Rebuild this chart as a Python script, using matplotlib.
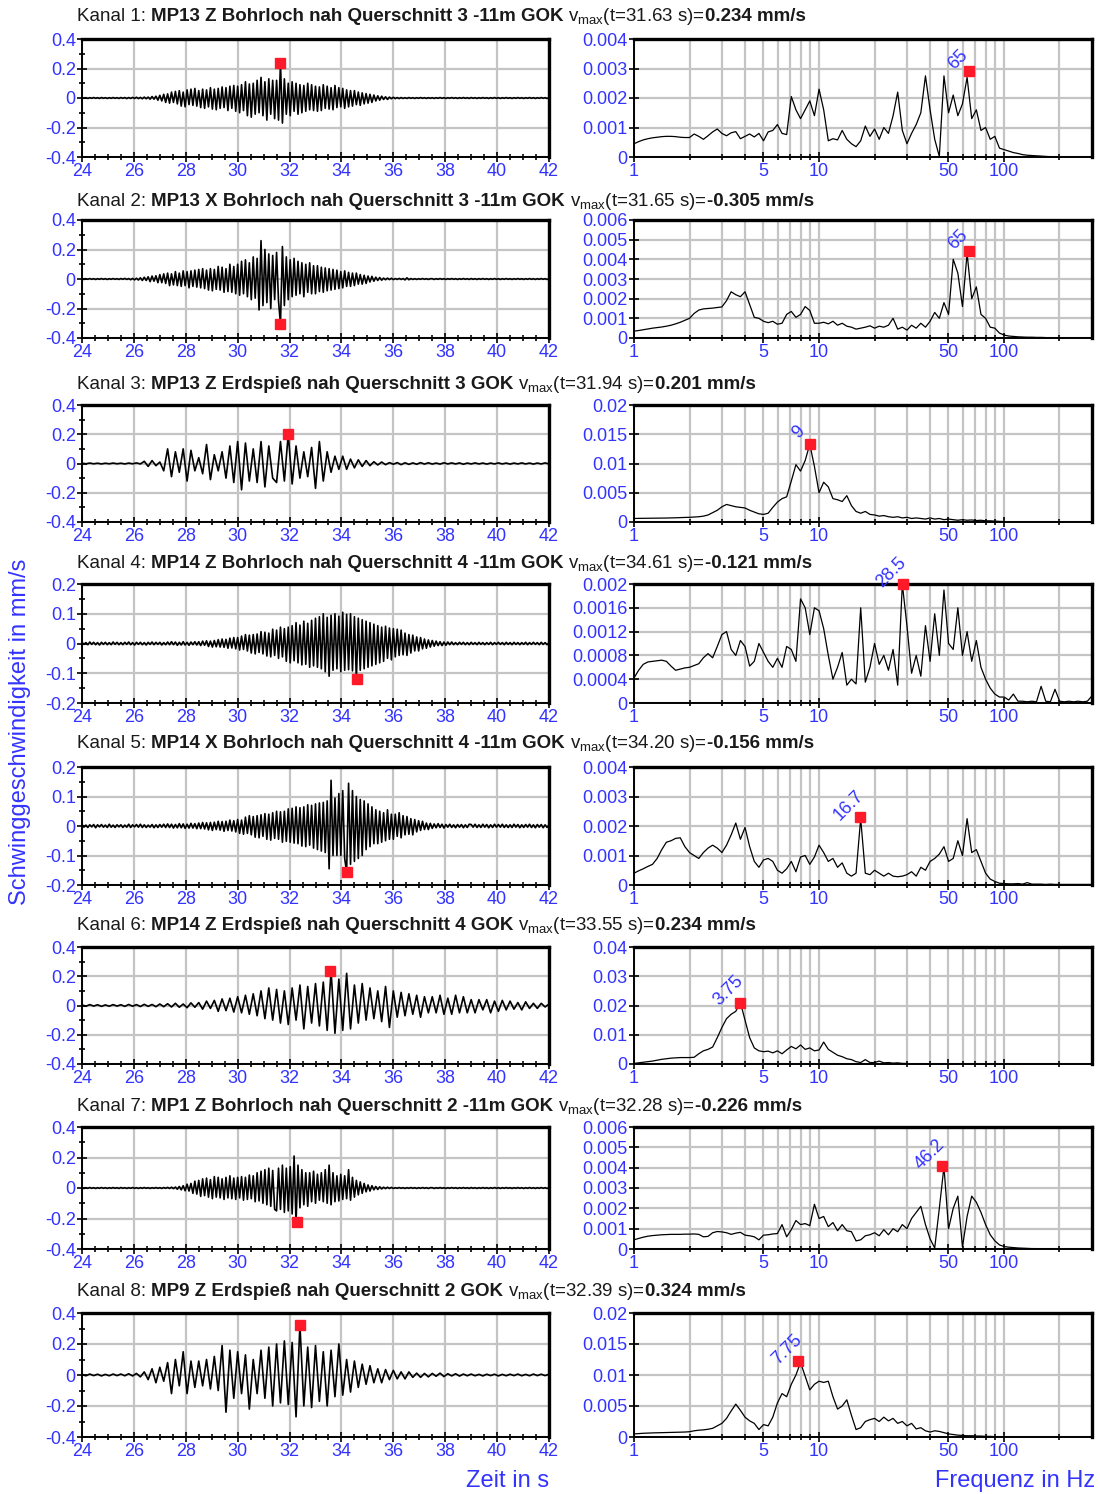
import numpy as np
import matplotlib
matplotlib.use('Agg')
import matplotlib.pyplot as plt
from matplotlib.ticker import MultipleLocator, FixedLocator, FixedFormatter, NullFormatter, FuncFormatter

plt.rcParams['font.family'] = ['Liberation Sans', 'DejaVu Sans']
plt.rcParams['mathtext.fontset'] = 'custom'
plt.rcParams['mathtext.rm'] = 'Liberation Sans'
plt.rcParams['axes.unicode_minus'] = False

###############################################################
# Data
# channel titles
kanal = ['Kanal 1:', 'Kanal 2:', 'Kanal 3:', 'Kanal 4:',
         'Kanal 5:', 'Kanal 6:', 'Kanal 7:', 'Kanal 8:']
sensor = ['MP13 Z Bohrloch nah Querschnitt 3 -11m GOK',
          'MP13 X Bohrloch nah Querschnitt 3 -11m GOK',
          'MP13 Z Erdspieß nah Querschnitt 3 GOK',
          'MP14 Z Bohrloch nah Querschnitt 4 -11m GOK',
          'MP14 X Bohrloch nah Querschnitt 4 -11m GOK',
          'MP14 Z Erdspieß nah Querschnitt 4 GOK',
          'MP1 Z Bohrloch nah Querschnitt 2 -11m GOK',
          'MP9 Z Erdspieß nah Querschnitt 2 GOK']
t_peak = [31.63, 31.65, 31.94, 34.61, 34.20, 33.55, 32.28, 32.39]
v_peak = [0.234, -0.305, 0.201, -0.121, -0.156, 0.234, -0.226, 0.324]

# velocity traces [mm/s], sampled evenly from 24 s to 42 s
# (one line = 1.5 s for the dense traces)
vel1 = [0.003, -0.002, 0.002, -0.003, 0.002, -0.002, 0.003, -0.002, 0.002, -0.003, 0.003, -0.002, 0.002, -0.003, 0.002, -0.002, 0.003, -0.002, 0.002, -0.003,
        0.003, -0.002, 0.003, -0.004, 0.003, -0.003, 0.004, -0.003, 0.005, -0.004, 0.004, -0.005, 0.006, -0.005, 0.006, -0.008, 0.01, -0.008, 0.012, -0.015,
        0.018, -0.02, 0.025, -0.03, 0.028, -0.035, 0.04, -0.03, 0.045, -0.04, 0.05, -0.055, 0.04, -0.06, 0.055, -0.045, 0.06, -0.05, 0.065, -0.055,
        0.05, -0.065, 0.06, -0.07, 0.055, -0.06, 0.07, -0.075, 0.06, -0.08, 0.065, -0.07, 0.075, -0.065, 0.07, -0.085, 0.08, -0.07, 0.085, -0.09,
        0.08, -0.1, 0.09, -0.085, 0.11, -0.12, 0.095, -0.13, 0.1, -0.11, 0.12, -0.1, 0.14, -0.12, 0.11, -0.15, 0.13, -0.11, 0.12, -0.14,
        0.12, -0.15, 0.234, -0.17, 0.13, -0.11, 0.1, -0.12, 0.11, -0.09, 0.1, -0.11, 0.09, -0.1, 0.085, -0.09, 0.1, -0.08, 0.09, -0.085,
        0.08, -0.09, 0.075, -0.085, 0.09, -0.07, 0.08, -0.075, 0.07, -0.08, 0.085, -0.065, 0.07, -0.06, 0.065, -0.07, 0.055, -0.06, 0.05, -0.055,
        0.05, -0.045, 0.04, -0.05, 0.035, -0.04, 0.03, -0.035, 0.025, -0.03, 0.02, -0.02, 0.015, -0.015, 0.012, -0.01, 0.008, -0.01, 0.006, -0.005,
        0.005, -0.004, 0.003, -0.004, 0.003, -0.003, 0.002, -0.003, 0.003, -0.002, 0.002, -0.003, 0.002, -0.002, 0.003, -0.002, 0.002, -0.003, 0.002, -0.002,
        0.002, -0.003, 0.002, -0.002, 0.003, -0.002, 0.002, -0.003, 0.002, -0.002, 0.003, -0.002, 0.002, -0.003, 0.002, -0.002, 0.003, -0.002, 0.002, -0.003,
        0.003, -0.002, 0.002, -0.003, 0.002, -0.002, 0.003, -0.002, 0.002, -0.003, 0.002, -0.002, 0.003, -0.002, 0.002, -0.003, 0.002, -0.002, 0.003, -0.002,
        0.002, -0.003, 0.002, -0.002, 0.003, -0.002, 0.002, -0.003, 0.002, -0.002, 0.003, -0.002, 0.002, -0.003, 0.002, -0.002, 0.003, -0.002, 0.002, -0.003,
        0.002]
vel2 = [0.002, -0.003, 0.002, -0.002, 0.003, -0.002, 0.002, -0.003, 0.002, -0.002, 0.003, -0.002, 0.002, -0.003, 0.002, -0.002, 0.003, -0.002, 0.002, -0.003,
        0.003, -0.002, 0.004, -0.003, 0.003, -0.005, 0.004, -0.006, 0.005, -0.007, 0.008, -0.01, 0.012, -0.01, 0.015, -0.018, 0.02, -0.015, 0.022, -0.025,
        0.03, -0.025, 0.035, -0.03, 0.04, -0.045, 0.035, -0.04, 0.05, -0.045, 0.04, -0.05, 0.055, -0.045, 0.05, -0.06, 0.055, -0.05, 0.06, -0.055,
        0.065, -0.06, 0.07, -0.065, 0.06, -0.075, 0.07, -0.08, 0.065, -0.07, 0.085, -0.075, 0.08, -0.09, 0.07, -0.085, 0.1, -0.09, 0.085, -0.1,
        0.1, -0.11, 0.12, -0.1, 0.13, -0.12, 0.11, -0.14, 0.15, -0.13, 0.14, -0.21, 0.26, -0.18, 0.2, -0.16, 0.17, -0.2, 0.16, -0.14,
        0.18, -0.15, -0.305, 0.22, -0.18, 0.15, -0.14, 0.13, -0.12, 0.14, -0.11, 0.12, -0.1, 0.11, -0.12, 0.1, -0.09, 0.11, -0.1, 0.09,
        -0.1, 0.09, -0.085, 0.08, -0.09, 0.075, -0.08, 0.07, -0.075, 0.065, -0.07, 0.06, -0.065, 0.05, -0.06, 0.055, -0.05, 0.045, -0.05, 0.04,
        -0.045, 0.04, -0.035, 0.03, -0.035, 0.025, -0.03, 0.02, -0.02, 0.018, -0.015, 0.012, -0.01, 0.01, -0.008, 0.006, -0.005, 0.006, -0.004, 0.005,
        -0.004, 0.003, -0.003, 0.004, -0.003, 0.003, -0.006, 0.008, -0.005, 0.003, -0.003, 0.002, -0.003, 0.002, -0.002, 0.003, -0.002, 0.002, -0.003, 0.002,
        0.002, -0.003, 0.002, -0.002, 0.003, -0.002, 0.002, -0.003, 0.002, -0.002, 0.003, -0.002, 0.002, -0.003, 0.002, -0.002, 0.003, -0.002, 0.002, -0.003,
        0.003, -0.002, 0.002, -0.003, 0.002, -0.002, 0.003, -0.002, 0.002, -0.003, 0.002, -0.002, 0.003, -0.002, 0.002, -0.003, 0.002, -0.002, 0.003, -0.002,
        0.002, -0.003, 0.002, -0.002, 0.003, -0.002, 0.002, -0.003, 0.002, -0.002, 0.003, -0.002, 0.002, -0.003, 0.002, -0.002, 0.003, -0.002, 0.002, -0.003,
        0.002]
vel3 = [0.002, -0.002, 0.003, -0.002, 0.002, -0.003, 0.002, -0.002, 0.003, -0.002,
        0.002, -0.003, 0.003, -0.002, 0.004, -0.003, 0.015, -0.02, 0.02, -0.015,
        0.01, -0.05, 0.1, -0.09, 0.08, -0.06, 0.1, -0.12, 0.09, -0.05,
        0.04, -0.07, 0.13, -0.11, 0.06, -0.05, 0.08, -0.1, 0.12, -0.13,
        0.15, -0.18, 0.14, -0.12, 0.1, -0.13, 0.15, -0.16, 0.12, -0.1,
        -0.13, 0.15, -0.12, 0.201, -0.14, 0.12, -0.1, 0.08, -0.09, 0.11,
        -0.17, 0.15, -0.12, 0.08, -0.06, 0.05, -0.04, 0.05, -0.04, 0.03,
        -0.03, 0.025, -0.02, 0.02, -0.015, 0.012, -0.01, 0.01, -0.008, 0.006,
        -0.005, 0.006, -0.008, 0.005, -0.006, 0.004, -0.005, 0.006, -0.004, 0.005,
        -0.004, 0.003, -0.004, 0.005, -0.003, 0.004, -0.003, 0.004, -0.005, 0.003,
        -0.003, 0.004, -0.003, 0.003, -0.004, 0.003, -0.003, 0.004, -0.003, 0.003,
        -0.004, 0.003, -0.003, 0.004, -0.003, 0.003, -0.004, 0.003, -0.003, 0.004, -0.003]
vel4 = [0.004, -0.003, 0.003, -0.004, 0.005, -0.003, 0.004, -0.004, 0.003, -0.005, 0.004, -0.003, 0.004, -0.004, 0.003, -0.004, 0.005, -0.003, 0.004, -0.004,
        0.003, -0.004, 0.004, -0.003, 0.005, -0.004, 0.003, -0.005, 0.004, -0.003, 0.004, -0.004, 0.003, -0.005, 0.004, -0.003, 0.005, -0.004, 0.004, -0.003,
        0.004, -0.005, 0.003, -0.004, 0.005, -0.004, 0.006, -0.004, 0.005, -0.006, 0.004, -0.005, 0.006, -0.005, 0.004, -0.006, 0.005, -0.004, 0.006, -0.005,
        0.006, -0.007, 0.008, -0.006, 0.009, -0.01, 0.008, -0.012, 0.01, -0.011, 0.013, -0.012, 0.015, -0.013, 0.014, -0.016, 0.018, -0.015, 0.02, -0.018,
        0.02, -0.022, 0.025, -0.02, 0.03, -0.025, 0.028, -0.032, 0.03, -0.035, 0.032, -0.03, 0.04, -0.035, 0.038, -0.042, 0.035, -0.045, 0.048, -0.04,
        0.045, -0.05, 0.055, -0.045, 0.05, -0.06, 0.055, -0.065, 0.06, -0.058, 0.07, -0.065, 0.062, -0.072, 0.075, -0.07, 0.068, -0.08, 0.078, -0.075,
        0.085, -0.08, 0.09, -0.085, 0.1, -0.095, 0.088, -0.11, 0.095, -0.09, 0.1, -0.085, 0.092, -0.095, 0.105, -0.09, 0.098, -0.088, 0.1, -0.092,
        0.09, -0.121, 0.085, -0.09, 0.08, -0.085, 0.075, -0.08, 0.07, -0.075, 0.065, -0.07, 0.06, -0.065, 0.055, -0.06, 0.058, -0.05, 0.052, -0.055,
        0.05, -0.045, 0.048, -0.04, 0.045, -0.038, 0.035, -0.04, 0.03, -0.032, 0.028, -0.025, 0.022, -0.025, 0.02, -0.018, 0.015, -0.016, 0.012, -0.012,
        0.01, -0.009, 0.008, -0.007, 0.006, -0.007, 0.005, -0.006, 0.005, -0.004, 0.005, -0.004, 0.003, -0.004, 0.004, -0.003, 0.004, -0.004, 0.003, -0.004,
        0.004, -0.003, 0.003, -0.004, 0.004, -0.003, 0.003, -0.004, 0.003, -0.003, 0.004, -0.004, 0.003, -0.003, 0.004, -0.003, 0.003, -0.004, 0.004, -0.003,
        0.003, -0.004, 0.004, -0.003, 0.003, -0.004, 0.003, -0.003, 0.004, -0.004, 0.003, -0.003, 0.004, -0.003, 0.003, -0.004, 0.004, -0.003, 0.003, -0.004,
        0.003]
vel5 = [0.005, -0.004, 0.003, -0.005, 0.004, -0.003, 0.005, -0.006, 0.004, -0.003, 0.005, -0.004, 0.003, -0.005, 0.006, -0.004, 0.003, -0.005, 0.004, -0.003,
        0.004, -0.005, 0.003, -0.004, 0.006, -0.005, 0.004, -0.003, 0.005, -0.004, 0.006, -0.005, 0.004, -0.005, 0.003, -0.004, 0.005, -0.006, 0.004, -0.005,
        0.005, -0.004, 0.006, -0.005, 0.007, -0.005, 0.006, -0.007, 0.005, -0.006, 0.008, -0.006, 0.007, -0.008, 0.006, -0.007, 0.009, -0.007, 0.008, -0.009,
        0.01, -0.009, 0.012, -0.01, 0.011, -0.013, 0.012, -0.015, 0.013, -0.012, 0.016, -0.014, 0.015, -0.018, 0.016, -0.015, 0.02, -0.017, 0.018, -0.02,
        0.022, -0.025, 0.02, -0.028, 0.03, -0.025, 0.035, -0.03, 0.032, -0.038, 0.035, -0.04, 0.038, -0.035, 0.042, -0.045, 0.04, -0.048, 0.045, -0.042,
        0.05, -0.045, 0.048, -0.055, 0.05, -0.052, 0.058, -0.055, 0.06, -0.058, 0.065, -0.06, 0.062, -0.068, 0.065, -0.07, 0.072, -0.065, 0.07, -0.075,
        0.075, -0.08, 0.078, -0.085, 0.08, -0.09, 0.085, -0.145, 0.155, -0.1, 0.095, -0.1, 0.11, -0.1, 0.12, -0.11, -0.156, 0.145, -0.13, 0.12,
        -0.12, 0.1, -0.11, 0.09, -0.1, 0.085, -0.08, 0.075, -0.07, 0.065, -0.06, 0.055, -0.06, 0.05, -0.055, 0.045, -0.05, 0.055, -0.045, 0.04,
        -0.045, 0.04, -0.035, 0.045, -0.04, 0.035, -0.03, 0.032, -0.028, 0.025, -0.03, 0.022, -0.02, 0.018, -0.015, 0.016, -0.012, 0.01, -0.012, 0.009,
        -0.008, 0.007, -0.006, 0.008, -0.005, 0.006, -0.007, 0.005, -0.004, 0.006, -0.005, 0.004, -0.006, 0.005, -0.004, 0.005, -0.006, 0.004, -0.005, 0.006,
        0.005, -0.004, 0.006, -0.005, 0.004, -0.005, 0.006, -0.004, 0.005, -0.006, 0.004, -0.005, 0.006, -0.004, 0.005, -0.004, 0.006, -0.005, 0.004, -0.005,
        0.004, -0.005, 0.006, -0.004, 0.005, -0.006, 0.004, -0.005, 0.005, -0.004, 0.006, -0.005, 0.004, -0.006, 0.005, -0.004, 0.005, -0.006, 0.004, -0.005,
        0.004]
vel6 = [0.004, -0.005, 0.006, -0.004, 0.005, -0.006, 0.004, -0.005, 0.006, -0.004,
        0.005, -0.006, 0.007, -0.005, 0.006, -0.007, 0.008, -0.006, 0.007, -0.008,
        0.01, -0.008, 0.012, -0.01, 0.015, -0.012, 0.01, -0.015, 0.018, -0.012,
        0.02, -0.025, 0.03, -0.02, 0.035, -0.04, 0.045, -0.035, 0.05, -0.045,
        0.06, -0.05, 0.07, -0.06, 0.08, -0.07, 0.1, -0.09, 0.12, -0.1,
        0.11, -0.12, 0.1, -0.13, 0.12, -0.1, 0.14, -0.16, 0.13, -0.12,
        0.15, -0.14, 0.16, -0.17, 0.234, -0.19, 0.18, -0.17, 0.22, -0.16,
        0.14, -0.12, 0.15, -0.1, 0.12, -0.09, 0.1, -0.11, 0.13, -0.15,
        0.1, -0.08, 0.09, -0.07, 0.08, -0.06, 0.07, -0.08, 0.06, -0.05,
        0.06, -0.05, 0.07, -0.06, 0.05, -0.06, 0.07, -0.05, 0.06, -0.05,
        0.04, -0.05, 0.04, -0.03, 0.04, -0.05, 0.03, -0.04, 0.035, -0.03,
        0.03, -0.025, 0.02, -0.03, 0.025, -0.02, 0.015, -0.02, 0.015, -0.01, 0.01]
vel7 = [0.002, -0.003, 0.002, -0.002, 0.003, -0.002, 0.002, -0.003, 0.002, -0.002, 0.003, -0.002, 0.002, -0.003, 0.002, -0.002, 0.003, -0.002, 0.002, -0.003,
        0.003, -0.002, 0.002, -0.003, 0.002, -0.002, 0.003, -0.002, 0.002, -0.003, 0.002, -0.002, 0.003, -0.002, 0.002, -0.003, 0.002, -0.002, 0.003, -0.002,
        0.002, -0.003, 0.003, -0.002, 0.004, -0.003, 0.005, -0.004, 0.006, -0.008, 0.01, -0.012, 0.015, -0.018, 0.025, -0.02, 0.03, -0.035, 0.045, -0.04,
        0.05, -0.055, 0.06, -0.05, 0.065, -0.06, 0.055, -0.07, 0.075, -0.06, 0.07, -0.065, 0.06, -0.075, 0.07, -0.065, 0.08, -0.07, 0.065, -0.075,
        0.07, -0.065, 0.075, -0.08, 0.07, -0.075, 0.085, -0.07, 0.08, -0.09, 0.1, -0.085, 0.11, -0.1, 0.12, -0.11, 0.13, -0.12, 0.115, -0.14,
        -0.15, 0.13, -0.14, 0.15, -0.16, 0.13, -0.15, 0.14, -0.17, 0.21, -0.226, 0.15, -0.13, 0.12, -0.11, 0.1, -0.12, 0.1, -0.09, 0.11,
        -0.1, 0.09, -0.08, 0.1, -0.09, 0.12, -0.1, 0.15, -0.11, 0.1, -0.09, 0.08, -0.085, 0.09, -0.075, 0.08, -0.07, 0.12, -0.08, 0.07,
        -0.06, 0.05, -0.045, 0.04, -0.035, 0.03, -0.025, 0.02, -0.02, 0.015, -0.012, 0.01, -0.01, 0.008, -0.006, 0.005, -0.004, 0.005, -0.003, 0.004,
        -0.003, 0.002, -0.002, 0.003, -0.002, 0.002, -0.003, 0.002, -0.002, 0.003, -0.002, 0.002, -0.003, 0.002, -0.002, 0.003, -0.002, 0.002, -0.003, 0.002,
        0.002, -0.003, 0.002, -0.002, 0.003, -0.002, 0.002, -0.003, 0.002, -0.002, 0.003, -0.002, 0.002, -0.003, 0.002, -0.002, 0.003, -0.002, 0.002, -0.003,
        0.003, -0.002, 0.002, -0.003, 0.002, -0.002, 0.003, -0.002, 0.002, -0.003, 0.002, -0.002, 0.003, -0.002, 0.002, -0.003, 0.002, -0.002, 0.003, -0.002,
        0.002, -0.003, 0.002, -0.002, 0.003, -0.002, 0.002, -0.003, 0.002, -0.002, 0.003, -0.002, 0.002, -0.003, 0.002, -0.002, 0.003, -0.002, 0.002, -0.003,
        0.002]
vel8 = [0.004, -0.005, 0.006, -0.004, 0.005, -0.006, 0.004, -0.005, 0.006, -0.004,
        0.006, -0.005, 0.008, -0.006, 0.01, -0.012, 0.02, -0.03, 0.04, -0.05,
        0.05, -0.04, 0.08, -0.12, 0.1, -0.07, 0.15, -0.12, 0.09, -0.08,
        0.09, -0.07, 0.1, -0.09, 0.12, -0.1, 0.19, -0.24, 0.16, -0.15,
        0.15, -0.12, 0.13, -0.22, 0.1, -0.12, 0.16, -0.15, 0.18, -0.2,
        0.2, -0.18, 0.22, -0.19, 0.21, -0.27, 0.324, -0.2, 0.18, -0.21,
        0.19, -0.17, 0.15, -0.2, 0.16, -0.14, 0.2, -0.13, 0.1, -0.11,
        0.09, -0.08, 0.07, -0.06, 0.06, -0.05, 0.04, -0.05, 0.035, -0.03,
        0.03, -0.025, 0.02, -0.025, 0.02, -0.015, 0.012, -0.015, 0.01, -0.012,
        0.01, -0.008, 0.012, -0.01, 0.008, -0.006, 0.008, -0.007, 0.006, -0.005,
        0.006, -0.005, 0.004, -0.006, 0.005, -0.004, 0.005, -0.006, 0.004, -0.005,
        0.005, -0.004, 0.006, -0.005, 0.004, -0.005, 0.006, -0.004, 0.005, -0.004, 0.005]

# amplitude spectra, sampled on a log grid 1..300 Hz (list may stop early)
spec_scale = [1e-3, 1e-3, 1e-3, 1e-4, 1e-4, 1e-3, 1e-3, 1e-3]
spec1 = [0.45, 0.52, 0.58, 0.62, 0.65, 0.67, 0.69, 0.70, 0.70, 0.69,
         0.67, 0.66, 0.66, 0.78, 0.70, 0.60, 0.72, 0.85, 0.95, 0.80,
         0.72, 0.82, 0.86, 0.62, 0.70, 0.78, 0.68, 0.80, 0.55, 0.85,
         0.90, 1.10, 0.80, 0.76, 2.05, 1.60, 1.30, 1.60, 1.90, 1.40,
         2.30, 1.60, 0.55, 0.62, 0.58, 0.90, 0.60, 0.45, 0.35, 0.55,
         1.05, 0.70, 0.95, 0.60, 1.00, 0.80, 1.40, 2.20, 0.90, 0.45,
         0.80, 1.10, 1.50, 2.75, 1.60, 0.60, 0.02, 2.75, 1.50, 2.10,
         1.40, 1.80, 2.70, 1.30, 1.60, 0.90, 1.00, 0.60, 0.70, 0.30,
         0.25, 0.20, 0.15, 0.12, 0.08, 0.06, 0.05, 0.04, 0.03, 0.02, 0.01]
spec2 = [0.35, 0.38, 0.42, 0.46, 0.50, 0.53, 0.56, 0.60, 0.65, 0.72,
         0.80, 0.90, 1.00, 1.25, 1.42, 1.48, 1.50, 1.52, 1.55, 1.58,
         1.90, 2.35, 2.20, 2.10, 2.35, 1.70, 1.05, 1.00, 0.85, 0.78,
         0.85, 0.70, 0.75, 1.20, 1.35, 1.05, 1.20, 1.60, 1.40, 0.75,
         0.75, 0.80, 0.72, 0.85, 0.65, 0.75, 0.60, 0.55, 0.45, 0.50,
         0.55, 0.62, 0.50, 0.60, 0.55, 0.65, 1.00, 0.45, 0.55, 0.40,
         0.65, 0.50, 0.75, 0.55, 0.85, 1.30, 1.00, 1.80, 1.20, 4.00,
         3.30, 1.60, 4.30, 2.00, 2.60, 1.20, 1.00, 0.55, 0.50, 0.25,
         0.15, 0.10, 0.08, 0.06, 0.05, 0.04, 0.04, 0.03, 0.03, 0.02, 0.01]
spec3 = [0.60, 0.62, 0.63, 0.64, 0.65, 0.66, 0.67, 0.68, 0.70, 0.72,
         0.75, 0.78, 0.80, 0.85, 0.90, 1.00, 1.20, 1.60, 2.00, 2.60,
         3.00, 2.80, 2.60, 2.50, 2.40, 2.00, 1.70, 1.40, 1.30, 1.50,
         2.50, 3.40, 4.00, 4.30, 7.00, 9.80, 8.70, 10.5, 13.3, 9.50,
         5.00, 6.80, 6.00, 4.00, 3.80, 3.50, 4.50, 2.80, 1.80, 1.50,
         1.80, 1.30, 1.20, 1.00, 1.10, 0.90, 0.80, 0.90, 0.70, 0.80,
         0.60, 0.70, 0.60, 0.50, 0.70, 0.50, 0.60, 0.40, 0.50, 0.40,
         0.30, 0.40, 0.30, 0.35, 0.25, 0.30, 0.20, 0.20, 0.15, 0.10, 0.08]
spec4 = [4.2, 5.5, 6.5, 6.9, 7.0, 7.1, 7.2, 7.0, 6.2, 5.5,
         5.7, 5.9, 6.0, 6.3, 6.6, 7.6, 8.3, 7.6, 9.5, 11.5,
         12.0, 9.0, 8.0, 10.5, 9.5, 6.2, 7.0, 10.0, 8.5, 7.0,
         6.0, 7.5, 6.0, 9.5, 9.0, 7.0, 17.5, 16.0, 11.5, 16.0,
         15.5, 12.5, 8.0, 4.0, 6.0, 8.5, 3.0, 4.0, 3.2, 16.0,
         3.5, 6.0, 10.0, 6.5, 8.0, 5.5, 9.0, 3.0, 20.0, 13.0,
         5.0, 8.0, 4.5, 13.0, 7.0, 15.0, 8.0, 19.0, 10.0, 9.0,
         16.0, 8.0, 12.0, 7.0, 10.5, 6.0, 4.0, 2.5, 1.5, 1.0,
         1.0, 0.5, 1.5, 0.3, 0.3, 0.2, 0.3, 0.2, 2.8, 0.3,
         0.2, 2.3, 0.3, 0.2, 0.3, 0.2, 0.3, 0.2, 0.3, 1.2]
spec5 = [4.0, 4.8, 5.5, 6.3, 7.0, 9.0, 12.0, 14.5, 15.0, 15.8,
         16.0, 13.0, 11.0, 10.0, 9.0, 11.0, 12.5, 13.5, 12.5, 11.0,
         13.5, 17.0, 21.0, 15.5, 19.5, 13.0, 8.0, 6.0, 8.5, 9.0,
         8.0, 5.0, 4.0, 5.5, 8.0, 4.5, 9.5, 10.0, 7.0, 9.5,
         13.5, 11.0, 8.0, 9.0, 6.0, 7.5, 4.0, 3.0, 4.0, 22.5,
         4.0, 3.5, 5.0, 4.0, 3.0, 4.0, 3.0, 2.8, 3.0, 3.5,
         4.5, 3.0, 6.0, 5.0, 8.0, 9.0, 10.5, 13.0, 8.0, 9.0,
         15.0, 10.0, 22.5, 11.0, 12.0, 8.0, 4.0, 2.0, 1.2, 0.6,
         0.5, 0.4, 0.4, 0.5, 0.3, 0.8, 0.3, 0.3, 0.3, 0.2,
         0.3, 0.2, 0.2, 0.2, 0.2, 0.2, 0.2, 0.2, 0.2, 0.2]
spec6 = [0.2, 0.4, 0.6, 0.8, 1.0, 1.3, 1.6, 1.8, 2.0, 2.1,
         2.2, 2.2, 2.2, 2.3, 3.5, 4.5, 5.0, 5.8, 9.0, 12.5,
         15.5, 17.0, 18.0, 21.0, 15.0, 9.0, 5.5, 4.5, 4.2, 4.4,
         3.8, 4.5, 3.5, 4.8, 6.0, 5.2, 6.5, 5.0, 5.5, 4.5,
         4.8, 7.5, 5.0, 4.0, 3.0, 2.5, 1.8, 1.5, 0.8, 0.5,
         1.5, 0.5, 0.5, 1.0, 0.4, 0.5, 0.3, 0.4, 0.2, 0.2]
spec7 = [0.45, 0.52, 0.58, 0.63, 0.66, 0.68, 0.70, 0.71, 0.72, 0.72,
         0.72, 0.73, 0.73, 0.74, 0.72, 0.60, 0.62, 0.80, 0.86, 0.84,
         0.80, 0.72, 0.78, 0.82, 0.68, 0.65, 0.60, 0.45, 0.68, 0.70,
         0.74, 0.76, 1.20, 0.60, 0.95, 1.40, 1.20, 1.25, 1.15, 2.20,
         1.50, 1.60, 1.10, 1.30, 0.90, 1.20, 0.90, 0.85, 0.40, 0.45,
         0.65, 0.70, 0.80, 0.65, 0.95, 0.70, 1.00, 0.85, 1.20, 1.00,
         1.50, 1.80, 2.10, 1.20, 0.50, 0.05, 2.00, 4.05, 1.00, 2.00,
         2.60, 0.10, 1.60, 2.60, 2.30, 1.80, 1.20, 0.70, 0.40, 0.20,
         0.12, 0.09, 0.07, 0.05, 0.04, 0.03, 0.02, 0.02, 0.01, 0.01, 0.01]
spec8 = [0.50, 0.55, 0.60, 0.63, 0.66, 0.68, 0.70, 0.72, 0.74, 0.76,
         0.78, 0.80, 0.85, 1.00, 1.10, 1.15, 1.25, 1.40, 1.80, 2.20,
         3.00, 4.20, 5.30, 4.30, 3.20, 2.60, 2.20, 1.20, 2.00, 1.80,
         3.20, 5.50, 7.00, 6.50, 8.50, 10.0, 12.0, 9.80, 7.60, 8.50,
         9.00, 8.80, 9.00, 6.50, 4.50, 5.00, 6.00, 3.50, 1.20, 1.50,
         2.50, 2.80, 3.00, 2.50, 3.20, 2.60, 3.00, 2.20, 2.50, 1.80,
         2.20, 1.30, 1.50, 1.00, 0.80, 1.00, 0.90, 0.70, 0.50, 0.40,
         0.30, 0.25, 0.20, 0.20, 0.15, 0.15, 0.10, 0.10, 0.05, 0.05, 0.03]
f_peak = [65, 65, 9, 28.5, 16.7, 3.75, 46.2, 7.75]
f_peak_lbl = ['65', '65', '9', '28.5', '16.7', '3.75', '46.2', '7.75']
a_peak = [0.0029, 0.0044, 0.0134, 0.0020, 0.0023, 0.021, 0.0041, 0.0123]

# axis ranges
v_lim = [0.4, 0.4, 0.4, 0.2, 0.2, 0.4, 0.4, 0.4]
s_max = [0.004, 0.006, 0.02, 0.002, 0.004, 0.04, 0.006, 0.02]
s_step = [0.001, 0.001, 0.005, 0.0004, 0.001, 0.01, 0.001, 0.005]

vels = [vel1, vel2, vel3, vel4, vel5, vel6, vel7, vel8]
specs = [spec1, spec2, spec3, spec4, spec5, spec6, spec7, spec8]
f_grid = np.geomspace(1, 300, 100)

###############################################################
# Layout (pixels of the 1100x1494 picture)
W, H = 1100, 1494
ax_top = [39, 220, 405, 584, 767, 947, 1127, 1313]
ax_bot = [157, 338, 522, 703, 885, 1064, 1249, 1437]
title_y = [21, 206, 389, 568, 748, 930, 1111, 1296]

BLUE = '#3333ff'
GRID = '#c4c4c4'
RED = '#ff1a2a'


def rect(x0, x1, top, bot):
    return [x0 / W, 1 - bot / H, (x1 - x0) / W, (bot - top) / H]


def fmt(v, pos):
    if abs(v) < 1e-12:
        return '0'
    return '%g' % round(v, 6)


def style(ax):
    for s in ['left', 'bottom']:
        ax.spines[s].set_linewidth(1.4)
    for s in ['top', 'right']:
        ax.spines[s].set_linewidth(2.4)
    ax.tick_params(which='both', direction='inout', colors='black',
                   labelcolor=BLUE, labelsize=13, width=1.2, pad=1)
    ax.tick_params(which='major', length=7)
    ax.tick_params(which='minor', length=4)
    ax.grid(True, color=GRID, lw=1.6, zorder=0)
    ax.set_axisbelow(True)


fig = plt.figure(figsize=(11, 14.94), dpi=100)

for i in range(8):
    # time signal
    ax = fig.add_axes(rect(82, 549, ax_top[i], ax_bot[i]))
    v = np.array(vels[i])
    t = np.linspace(24, 42, len(v))
    ax.plot(t, v, color='black', lw=1.2, zorder=3)
    ax.plot(t_peak[i], v_peak[i], 's', color=RED, ms=7, zorder=5, clip_on=False)
    ax.set_xlim(24, 42)
    ax.set_ylim(-v_lim[i], v_lim[i])
    ax.xaxis.set_major_locator(MultipleLocator(2))
    ax.xaxis.set_minor_locator(MultipleLocator(0.5))
    ax.yaxis.set_major_locator(MultipleLocator(v_lim[i] / 2))
    ax.yaxis.set_minor_locator(MultipleLocator(v_lim[i] / 4))
    ax.yaxis.set_major_formatter(FuncFormatter(fmt))
    style(ax)
    ax.grid(False, which='minor')

    # spectrum
    ax2 = fig.add_axes(rect(634, 1092, ax_top[i], ax_bot[i]))
    a = np.array(specs[i]) * spec_scale[i]
    ax2.plot(f_grid[:len(a)], a, color='black', lw=0.9, zorder=3)
    ax2.plot(f_peak[i], a_peak[i], 's', color=RED, ms=7, zorder=5, clip_on=False)
    ax2.annotate(f_peak_lbl[i], (f_peak[i], a_peak[i]), xytext=(-4, 4),
                 textcoords='offset points', rotation=45, rotation_mode='anchor',
                 ha='center', va='bottom', color=BLUE, fontsize=13, zorder=6)
    ax2.set_xscale('log')
    ax2.set_xlim(1, 300)
    ax2.set_ylim(0, s_max[i])
    ax2.xaxis.set_major_locator(FixedLocator([1, 5, 10, 50, 100]))
    ax2.xaxis.set_major_formatter(FixedFormatter(['1', '5', '10', '50', '100']))
    ax2.xaxis.set_minor_locator(FixedLocator([2, 3, 4, 6, 7, 8, 9, 20, 30, 40,
                                              60, 70, 80, 90, 200]))
    ax2.xaxis.set_minor_formatter(NullFormatter())
    ax2.yaxis.set_major_locator(MultipleLocator(s_step[i]))
    ax2.yaxis.set_major_formatter(FuncFormatter(fmt))
    style(ax2)
    ax2.grid(True, which='minor', axis='x', color=GRID, lw=1.6)

# titles, built from pieces with mixed weights
fig.canvas.draw()
renderer = fig.canvas.get_renderer()
gap = 5
for i in range(8):
    pieces = [(kanal[i], 'normal', gap),
              (sensor[i], 'bold', gap),
              (r'$\mathregular{v_{max}}$(t=%.2f s)=' % t_peak[i], 'normal', 0),
              ('%.3f mm/s' % v_peak[i], 'bold', 0)]
    x = 77
    for txt, w, g in pieces:
        tt = fig.text(x / W, 1 - title_y[i] / H, txt, fontsize=13.5, fontweight=w,
                      color='#1a1a1a', va='baseline', ha='left')
        x += tt.get_window_extent(renderer).width + g

fig.text(20 / W, 1 - 732 / H, 'Schwinggeschwindigkeit in mm/s', rotation=90,
         color=BLUE, fontsize=17, ha='center', va='center')
fig.text(549 / W, 1 - 1481 / H, 'Zeit in s', color=BLUE, fontsize=17,
         ha='right', va='center')
fig.text(1095 / W, 1 - 1481 / H, 'Frequenz in Hz', color=BLUE, fontsize=17,
         ha='right', va='center')

plt.savefig('out.png', dpi=100)
